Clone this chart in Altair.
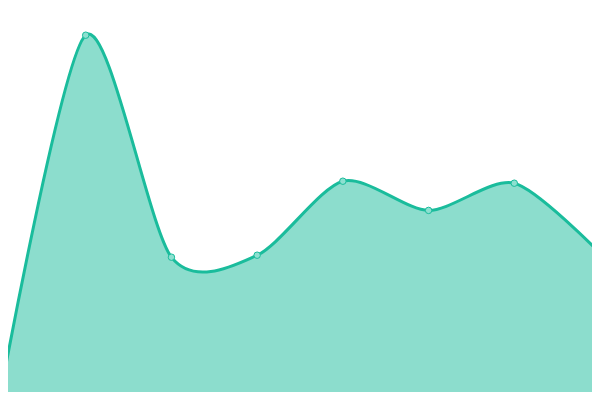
import altair as alt
import pandas as pd

idx = [0, 1, 2, 3, 4, 5, 6, 7]
values = [0.8, 91.2, 35.7, 36.2, 54.7, 47.4, 54.2, 36.7]

df = pd.DataFrame({"i": idx, "v": values})

x = alt.X("i:Q", scale=alt.Scale(domain=[0, 7], nice=False, zero=False), axis=None)
y = alt.Y("v:Q", scale=alt.Scale(domain=[0, 100], nice=False), axis=None)

base = alt.Chart(df)
area = base.mark_area(interpolate="cardinal", tension=0.2, color="#1abc9c", opacity=0.5).encode(x=x, y=y)
line = base.mark_line(interpolate="cardinal", tension=0.2, color="#1abc9c", strokeWidth=3).encode(x=x, y=y)
pts = base.mark_point(filled=True, shape="circle", size=42, fill="#8de0d0", stroke="#1abc9c",
                      strokeWidth=1, opacity=1).encode(x=x, y=y)

chart = (area + line + pts).properties(
    width=600, height=400,
    padding={"left": -8, "top": -8, "right": -8, "bottom": -8},
    autosize=alt.AutoSizeParams(type="none")
).configure_view(stroke=None)

chart.save("out.html", embed_options={"renderer": "svg", "actions": False})
